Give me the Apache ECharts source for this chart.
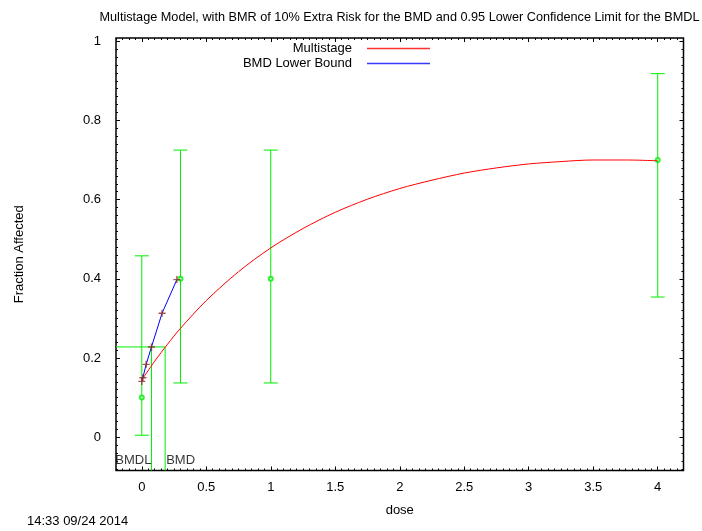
<!DOCTYPE html>
<html>
<head>
<meta charset="utf-8">
<script src="https://cdn.jsdelivr.net/npm/echarts@6/dist/echarts.min.js"></script>
<style>
  html, body { margin: 0; padding: 0; background: #fff; }
  #chart { width: 702px; height: 531px; }
</style>
</head>
<body>
<div id="chart"></div>
<script>
// Observed response: fraction affected per dose group with 95% interval bounds
const doses = [0, 0.3, 1, 4];
const meanFrac = [0.1, 0.4, 0.4, 0.7];
const ciLower = [0.005, 0.137, 0.137, 0.354];
const ciUpper = [0.458, 0.725, 0.725, 0.918];

// Fitted multistage curve
const curveDose = [0, 0.1, 0.2, 0.3, 0.5, 0.75, 1, 1.25, 1.5, 1.75, 2, 2.25, 2.5, 2.75, 3, 3.25, 3.5, 3.75, 4];
const curveFrac = [0.145, 0.192, 0.235, 0.275, 0.345, 0.418, 0.478, 0.527, 0.568, 0.601, 0.628, 0.649, 0.667, 0.680, 0.690, 0.696, 0.700, 0.700, 0.698];

// BMD lower bound line
const lbDose = [0, 0.008, 0.034, 0.075, 0.157, 0.272];
const lbFrac = [0.141, 0.150, 0.184, 0.228, 0.313, 0.398];

// Benchmark values
const bmd = 0.181;
const bmdl = 0.075;
const bmrLevel = 0.228;

// Axis ranges and tick labels
const xRange = [-0.2, 4.2];
const yRange = [-0.084, 1.008];
const xTicks = [0, 0.5, 1, 1.5, 2, 2.5, 3, 3.5, 4];
const yTicks = [0, 0.2, 0.4, 0.6, 0.8, 1];
const bmdLabelY = -0.058;

const xMinor = [];
for (let i = -4; i <= 84; i++) xMinor.push(+(i * 0.05).toFixed(3));
const yMinor = [];
for (let i = -4; i <= 50; i++) yMinor.push(+(i * 0.02).toFixed(3));

const FONT = 'Liberation Sans, Arial, Helvetica, sans-serif';
const GREEN = '#00ee00';
const gridRect = { left: 116, right: 18.5, top: 38, bottom: 60.5 };

function zipPts(xs, ys) { return xs.map((x, i) => [x, ys[i]]); }

function tickAxis(kind, gridIndex, position, values, len, extra) {
  const range = kind === 'x' ? xRange : yRange;
  return Object.assign({
    type: 'value', gridIndex: gridIndex, position: position,
    min: range[0], max: range[1],
    axisLine: { show: false, onZero: false },
    splitLine: { show: false },
    axisTick: { show: true, inside: true, length: len, customValues: values,
                lineStyle: { color: '#000', width: 1 } },
    axisLabel: { show: false }
  }, extra || {});
}

const chart = echarts.init(document.getElementById('chart'), null, { renderer: 'canvas' });

const option = {
  animation: false,
  backgroundColor: '#fff',
  textStyle: { fontFamily: FONT, color: '#000' },
  grid: [
    Object.assign({ show: true, borderColor: '#000', borderWidth: 1.5, backgroundColor: 'transparent' }, gridRect),
    Object.assign({ show: false }, gridRect)
  ],
  legend: [
    {
      data: [{ name: 'Multistage', icon: 'rect', itemStyle: { color: '#ff3030' } }],
      right: 272, top: 42, padding: 0, align: 'right',
      itemWidth: 63, itemHeight: 1.3, selectedMode: false,
      textStyle: { fontSize: 13, fontFamily: FONT, color: '#000', padding: [0, 10, 0, 0] }
    },
    {
      data: [{ name: 'BMD Lower Bound', icon: 'rect', itemStyle: { color: '#3a3aff' } }],
      right: 272, top: 57, padding: 0, align: 'right',
      itemWidth: 63, itemHeight: 1.3, selectedMode: false,
      textStyle: { fontSize: 13, fontFamily: FONT, color: '#000', padding: [0, 10, 0, 0] }
    }
  ],
  xAxis: [
    tickAxis('x', 0, 'bottom', xTicks, 4, {
      name: 'dose', nameLocation: 'middle', nameGap: 33,
      nameTextStyle: { fontSize: 13, fontFamily: FONT, color: '#000' },
      axisLabel: { show: true, customValues: xTicks, margin: 10, fontSize: 13, fontFamily: FONT, color: '#000' }
    }),
    tickAxis('x', 0, 'top', xTicks, 4),
    tickAxis('x', 1, 'bottom', xMinor, 2),
    tickAxis('x', 1, 'top', xMinor, 2)
  ],
  yAxis: [
    tickAxis('y', 0, 'left', yTicks, 4, {
      name: 'Fraction Affected', nameLocation: 'middle', nameGap: 90,
      nameTextStyle: { fontSize: 13, fontFamily: FONT, color: '#000' },
      axisLabel: { show: true, customValues: yTicks, margin: 15, fontSize: 13, fontFamily: FONT, color: '#000' }
    }),
    tickAxis('y', 0, 'right', yTicks, 4),
    tickAxis('y', 1, 'left', yMinor, 2),
    tickAxis('y', 1, 'right', yMinor, 2)
  ],
  graphic: [
    {
      type: 'text', x: 399.5, y: 17,
      style: {
        text: 'Multistage Model, with BMR of 10% Extra Risk for the BMD and 0.95 Lower Confidence Limit for the BMDL',
        font: '12.7px ' + FONT, fill: '#000', align: 'center', verticalAlign: 'middle'
      }
    },
    {
      type: 'text', x: 27, y: 521,
      style: { text: '14:33 09/24 2014', font: '13px ' + FONT, fill: '#000', align: 'left', verticalAlign: 'middle' }
    }
  ],
  series: [
    {
      name: 'errorbars', type: 'custom', xAxisIndex: 0, yAxisIndex: 0,
      data: doses.map((d, i) => [d, ciLower[i], ciUpper[i]]),
      renderItem: function (params, api) {
        const x = api.value(0);
        const lo = api.coord([x, api.value(1)]);
        const hi = api.coord([x, api.value(2)]);
        const hw = 7;
        const st = { stroke: GREEN, lineWidth: 1 };
        return {
          type: 'group',
          children: [
            { type: 'line', shape: { x1: lo[0], y1: lo[1], x2: hi[0], y2: hi[1] }, style: st },
            { type: 'line', shape: { x1: hi[0] - hw, y1: hi[1], x2: hi[0] + hw, y2: hi[1] }, style: st },
            { type: 'line', shape: { x1: lo[0] - hw, y1: lo[1], x2: lo[0] + hw, y2: lo[1] }, style: st }
          ]
        };
      },
      z: 2
    },
    {
      name: 'means', type: 'scatter', xAxisIndex: 0, yAxisIndex: 0,
      data: zipPts(doses, meanFrac),
      symbol: 'emptyCircle', symbolSize: 4,
      itemStyle: { color: GREEN, borderColor: GREEN, borderWidth: 1.5 },
      z: 3
    },
    {
      name: 'bmdGuide', type: 'line', xAxisIndex: 0, yAxisIndex: 0,
      data: [[xRange[0], bmrLevel], [bmd, bmrLevel], [bmd, yRange[0]]],
      symbol: 'none', lineStyle: { color: GREEN, width: 1 }, z: 2
    },
    {
      name: 'bmdlGuide', type: 'line', xAxisIndex: 0, yAxisIndex: 0,
      data: [[bmdl, bmrLevel], [bmdl, yRange[0]]],
      symbol: 'none', lineStyle: { color: GREEN, width: 1 }, z: 2
    },
    {
      name: 'Multistage', type: 'line', xAxisIndex: 0, yAxisIndex: 0,
      data: zipPts(curveDose, curveFrac), smooth: 0.3,
      symbol: 'none', lineStyle: { color: '#ff0000', width: 1 },
      itemStyle: { color: '#ff0000' }, z: 4
    },
    {
      name: 'BMD Lower Bound', type: 'line', xAxisIndex: 0, yAxisIndex: 0,
      data: zipPts(lbDose, lbFrac),
      symbol: 'none', lineStyle: { color: '#0000ff', width: 1 },
      itemStyle: { color: '#0000ff' }, z: 4
    },
    {
      name: 'lbPoints', type: 'scatter', xAxisIndex: 0, yAxisIndex: 0,
      data: zipPts(lbDose, lbFrac),
      symbol: 'path://M2.4,0H3.6V2.4H6V3.6H3.6V6H2.4V3.6H0V2.4H2.4Z', symbolSize: 7,
      itemStyle: { color: '#8e2828' }, z: 5
    },
    {
      name: 'bmdLabels', type: 'scatter', xAxisIndex: 0, yAxisIndex: 0,
      data: [
        { value: [bmdl, bmdLabelY], label: { position: 'left', formatter: 'BMDL', distance: 0 } },
        { value: [bmd, bmdLabelY], label: { position: 'right', formatter: 'BMD', distance: 1 } }
      ],
      symbolSize: 0,
      label: { show: true, fontSize: 13, fontFamily: FONT, color: '#000' },
      z: 6
    }
  ]
};

chart.setOption(option);
</script>
</body>
</html>
